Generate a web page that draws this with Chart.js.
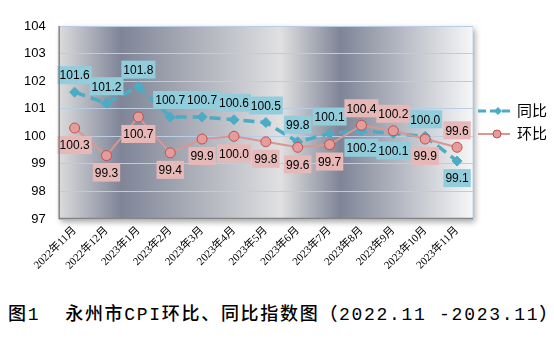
<!DOCTYPE html>
<html>
<head>
<meta charset="utf-8">
<script src="https://cdn.jsdelivr.net/npm/chart.js@4/dist/chart.umd.min.js"></script>
<style>
  body { margin: 0; background: #fff; width: 554px; height: 345px; overflow: hidden; }
  #wrap { position: relative; width: 554px; height: 290px; }
  #caption {
    position: absolute; left: 8px; top: 299px; width: 546px;
    font-family: "Liberation Mono", "Noto Sans CJK SC", monospace; font-size: 18px; font-weight: 500;
    color: #000; white-space: nowrap; letter-spacing: 1.7px;
  }
</style>
</head>
<body>
<div id="wrap"><canvas id="cpiChart" width="554" height="290"></canvas></div>
<div id="caption">图1&nbsp;&nbsp;永州市CPI环比、同比指数图（2022.11 -2023.11）</div>
<script>
const months = ['2022年11月', '2022年12月', '2023年1月', '2023年2月', '2023年3月', '2023年4月', '2023年5月',
    '2023年6月', '2023年7月', '2023年8月', '2023年9月', '2023年10月', '2023年11月'];
const tongbi = [101.6, 101.2, 101.8, 100.7, 100.7, 100.6, 100.5, 99.8, 100.1, 100.2, 100.1, 100.0, 99.1];
const huanbi = [100.3, 99.3, 100.7, 99.4, 99.9, 100.0, 99.8, 99.6, 99.7, 100.4, 100.2, 99.9, 99.6];
const yTicks = [97, 98, 99, 100, 101, 102, 103, 104];

// which side of the point each value box sits on
const tongbiLabelSide = ['up', 'up', 'up', 'up', 'up', 'up', 'up', 'up', 'up', 'down', 'down', 'up', 'down'];
const huanbiLabelSide = ['down', 'down', 'down', 'down', 'down', 'down', 'down', 'down', 'down', 'up', 'up', 'down', 'up'];

const blue = '#4bacc6';
const blueBox = '#92cddc';
const red = '#d99694';
const redBox = '#e6b9b8';

// plot background: shaded bands plus a soft drop shadow
const plotBackground = {
    id: 'plotBackground',
    beforeDraw(chart) {
        const { ctx, chartArea: a } = chart;
        ctx.save();
        ctx.shadowColor = 'rgba(0,0,0,0.35)';
        ctx.shadowBlur = 6;
        ctx.shadowOffsetX = 2;
        ctx.shadowOffsetY = 3;
        const g = ctx.createLinearGradient(a.left, 0, a.right, 0);
        g.addColorStop(0, '#dcdcde');
        g.addColorStop(0.15, '#7f8597');
        g.addColorStop(0.535, '#e0e0e1');
        g.addColorStop(0.68, '#7f8597');
        g.addColorStop(1, '#f7f7f7');
        ctx.fillStyle = g;
        ctx.fillRect(a.left, a.top, a.right - a.left, a.bottom - a.top);
        ctx.restore();
        // light frame top/right
        ctx.save();
        ctx.strokeStyle = '#dce6f2';
        ctx.lineWidth = 1;
        ctx.beginPath();
        ctx.moveTo(a.left, a.top + 0.5);
        ctx.lineTo(a.right - 0.5, a.top + 0.5);
        ctx.lineTo(a.right - 0.5, a.bottom);
        ctx.stroke();
        ctx.restore();
    },
    afterDraw(chart) {
        const { ctx, chartArea: a } = chart;
        ctx.save();
        ctx.strokeStyle = '#858585';
        ctx.lineWidth = 1.5;
        ctx.beginPath();
        ctx.moveTo(a.left + 0.5, a.top);
        ctx.lineTo(a.left + 0.5, a.bottom - 0.5);
        ctx.lineTo(a.right, a.bottom - 0.5);
        ctx.stroke();
        ctx.restore();
    }
};

// value boxes next to each point
const valueBoxes = {
    id: 'valueBoxes',
    afterDatasetsDraw(chart) {
        const { ctx } = chart;
        const sets = [
            { idx: 0, values: tongbi, sides: tongbiLabelSide, fill: blueBox },
            { idx: 1, values: huanbi, sides: huanbiLabelSide, fill: redBox }
        ];
        ctx.save();
        ctx.font = '12px "Liberation Sans", Arial, sans-serif';
        ctx.textAlign = 'center';
        ctx.textBaseline = 'middle';
        sets.forEach(s => {
            const meta = chart.getDatasetMeta(s.idx);
            meta.data.forEach((pt, i) => {
                const text = s.values[i].toFixed(1);
                const w = ctx.measureText(text).width + 4;
                const h = 18;
                const cy = s.sides[i] === 'up' ? pt.y - 17 : pt.y + 17;
                ctx.fillStyle = s.fill;
                ctx.fillRect(pt.x - w / 2, cy - h / 2, w, h);
                ctx.fillStyle = '#000';
                ctx.fillText(text, pt.x, cy + 1);
            });
        });
        ctx.restore();
    }
};

// legend on the right: line with marker, then series name
const sideLegend = {
    id: 'sideLegend',
    afterDraw(chart) {
        const { ctx } = chart;
        const items = [
            { name: '同比', y: 111, color: blue, dash: [8, 4], width: 3, shape: 'diamond' },
            { name: '环比', y: 134, color: red, dash: [], width: 2, shape: 'circle' }
        ];
        ctx.save();
        items.forEach(it => {
            ctx.strokeStyle = it.color;
            ctx.lineWidth = it.width;
            ctx.setLineDash(it.dash);
            ctx.beginPath();
            ctx.moveTo(478, it.y);
            ctx.lineTo(510, it.y);
            ctx.stroke();
            ctx.setLineDash([]);
            if (it.shape === 'diamond') {
                ctx.fillStyle = blue;
                ctx.beginPath();
                ctx.moveTo(498, it.y - 4);
                ctx.lineTo(502, it.y);
                ctx.lineTo(498, it.y + 4);
                ctx.lineTo(494, it.y);
                ctx.closePath();
                ctx.fill();
            } else {
                ctx.fillStyle = '#e49d9b';
                ctx.strokeStyle = '#c0504d';
                ctx.lineWidth = 1;
                ctx.beginPath();
                ctx.arc(497, it.y, 4, 0, Math.PI * 2);
                ctx.fill();
                ctx.stroke();
            }
            ctx.fillStyle = '#000';
            ctx.font = '15px "Noto Sans CJK SC", sans-serif';
            ctx.textBaseline = 'middle';
            ctx.fillText(it.name, 517, it.y - 1);
        });
        ctx.restore();
    }
};

new Chart(document.getElementById('cpiChart'), {
    type: 'line',
    data: {
        labels: months,
        datasets: [{
            label: '同比',
            data: tongbi,
            order: 1,
            borderColor: blue,
            borderWidth: 3.5,
            borderDash: [11, 6],
            pointStyle: 'rectRot',
            pointRadius: 5,
            pointBackgroundColor: blue,
            pointBorderColor: blue,
            pointBorderWidth: 1,
            tension: 0
        }, {
            label: '环比',
            data: huanbi,
            order: 0,
            borderColor: red,
            borderWidth: 2,
            pointStyle: 'circle',
            pointRadius: 5,
            pointBackgroundColor: '#e49d9b',
            pointBorderColor: '#c0504d',
            pointBorderWidth: 1,
            tension: 0
        }]
    },
    options: {
        responsive: false,
        animation: false,
        layout: { padding: { top: 26, right: 81, left: 11, bottom: 0 } },
        plugins: {
            legend: { display: false },
            tooltip: { enabled: false }
        },
        scales: {
            x: {
                offset: true,
                grid: { display: false, drawTicks: false },
                border: { display: false },
                ticks: {
                    autoSkip: false,
                    minRotation: 45,
                    maxRotation: 45,
                    padding: 5,
                    color: '#000',
                    font: { family: '"Liberation Serif", "Noto Sans CJK SC", serif', size: 11 }
                },
                afterFit(scale) {
                    // let the slanted first label run past the plot edge
                    scale.height = 71;
                    scale.paddingLeft = 0;
                    scale.paddingRight = 0;
                }
            },
            y: {
                min: 97,
                max: 104,
                afterBuildTicks(scale) { scale.ticks = yTicks.map(v => ({ value: v })); },
                grid: { color: '#b9cde5', lineWidth: 1, drawTicks: false },
                border: { display: false },
                ticks: {
                    padding: 13,
                    color: '#000',
                    font: { family: '"Liberation Sans", Arial, sans-serif', size: 13 }
                }
            }
        }
    },
    plugins: [plotBackground, valueBoxes, sideLegend]
});
</script>
</body>
</html>
